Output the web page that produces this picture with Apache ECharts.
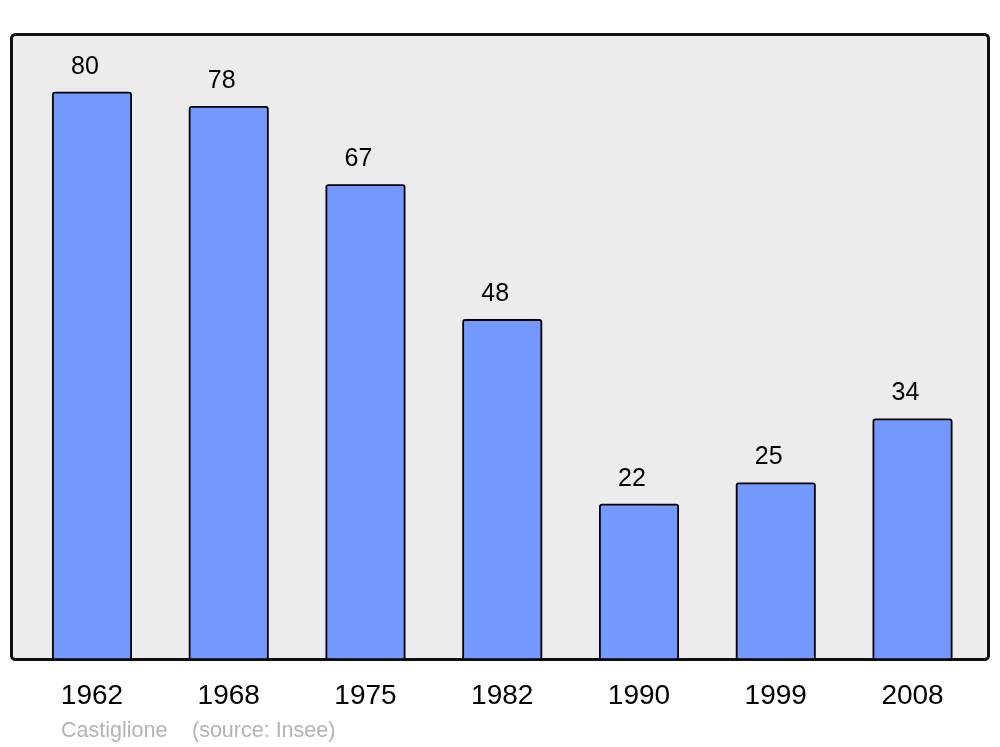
<!DOCTYPE html>
<html><head><meta charset="utf-8">
<script src="https://cdn.jsdelivr.net/npm/echarts@6/dist/echarts.min.js"></script>
<style>html,body{margin:0;padding:0;background:#fff}#c{width:1000px;height:747px}</style>
</head><body><div id="c"></div>
<script>
const categories = ['1962','1968','1975','1982','1990','1999','2008'];
const values = [80,78,67,48,22,25,34];
const caption = 'Castiglione';
const source = '(source: Insee)';

const chart = echarts.init(document.getElementById('c'), null, {renderer:'canvas'});
chart.setOption({
  animation:false,
  backgroundColor:'#ffffff',
  graphic:[
    {type:'rect', z:-10, shape:{x:11.5,y:34.5,width:977,height:625,r:4},
     style:{fill:'#ececec', stroke:'#111', lineWidth:3}},
    {type:'text', left:61, top:720.5, style:{text:caption, fill:'#b3b3b3', font:'21.5px "Liberation Sans", Arial, sans-serif'}},
    {type:'text', left:192, top:720.5, style:{text:source, fill:'#b3b3b3', font:'21.5px "Liberation Sans", Arial, sans-serif'}}
  ],
  grid:{left:23.6, right:19.1, top:35, bottom:87, containLabel:false},
  xAxis:{type:'category', data:categories,
    axisLine:{show:false}, axisTick:{show:false},
    axisLabel:{color:'#000', fontSize:28, fontFamily:'"Liberation Sans", Arial, sans-serif', margin:22}},
  yAxis:{type:'value', min:0, max:88, show:false, splitLine:{show:false}},
  series:[{type:'bar', data:values, barWidth:80, z:2,
    itemStyle:{color:'#7399ff', borderColor:'#000', borderWidth:1.8, borderRadius:[2,2,0,0]},
    label:{show:true, position:'top', distance:12.5, offset:[-7,0], color:'#000', fontSize:25,
      fontFamily:'"Liberation Sans", Arial, sans-serif'}
  }]
});
</script></body></html>
